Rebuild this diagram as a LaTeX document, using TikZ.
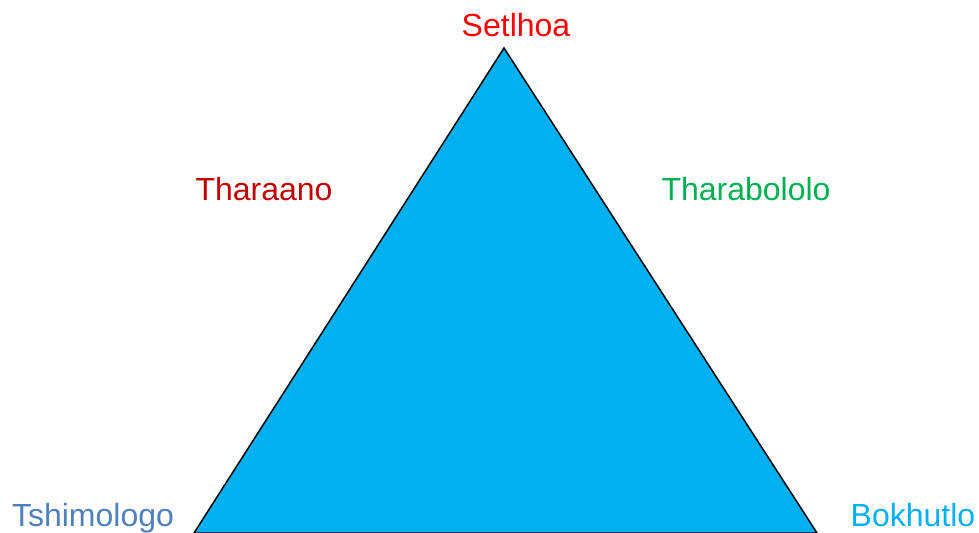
\documentclass[tikz,border=0pt]{standalone}
\usepackage{fontspec}
\setmainfont{Liberation Sans}
\usepackage{xcolor}
\usepackage{tikz}
\definecolor{topred}{HTML}{FF0000}
\definecolor{darkred}{HTML}{C00000}
\definecolor{grassgreen}{HTML}{00B050}
\definecolor{steelblue}{HTML}{4F81BD}
\definecolor{skyblue}{HTML}{00B0F0}

\begin{document}
\begin{tikzpicture}[
  x=0.5pt,y=-0.5pt,
  lbl/.style={anchor=base,inner sep=0pt,font=\fontsize{16}{19}\selectfont},
  tri/.style={draw=black,line width=0.75pt,fill=skyblue,line join=miter}
]
\useasboundingbox (0,0) rectangle (979,533);
\coordinate (apex) at (504,48);
\coordinate (left) at (194,533);
\coordinate (right) at (817,533);
\draw[tri] (apex) -- (right) -- (left) -- cycle;

\node[lbl,text=topred]     (setlhoa) at (516,37)  {Setlhoa};
\node[lbl,text=darkred]    (tharaano) at (264,201) {Tharaano};
\node[lbl,text=grassgreen] (tharab)  at (746,201) {Tharabololo};
\node[lbl,text=steelblue]  (tshimo)  at (93,526)  {Tshimologo};
\node[lbl,text=skyblue]    (bokhutlo) at (913,526) {Bokhutlo};
\end{tikzpicture}
\end{document}
